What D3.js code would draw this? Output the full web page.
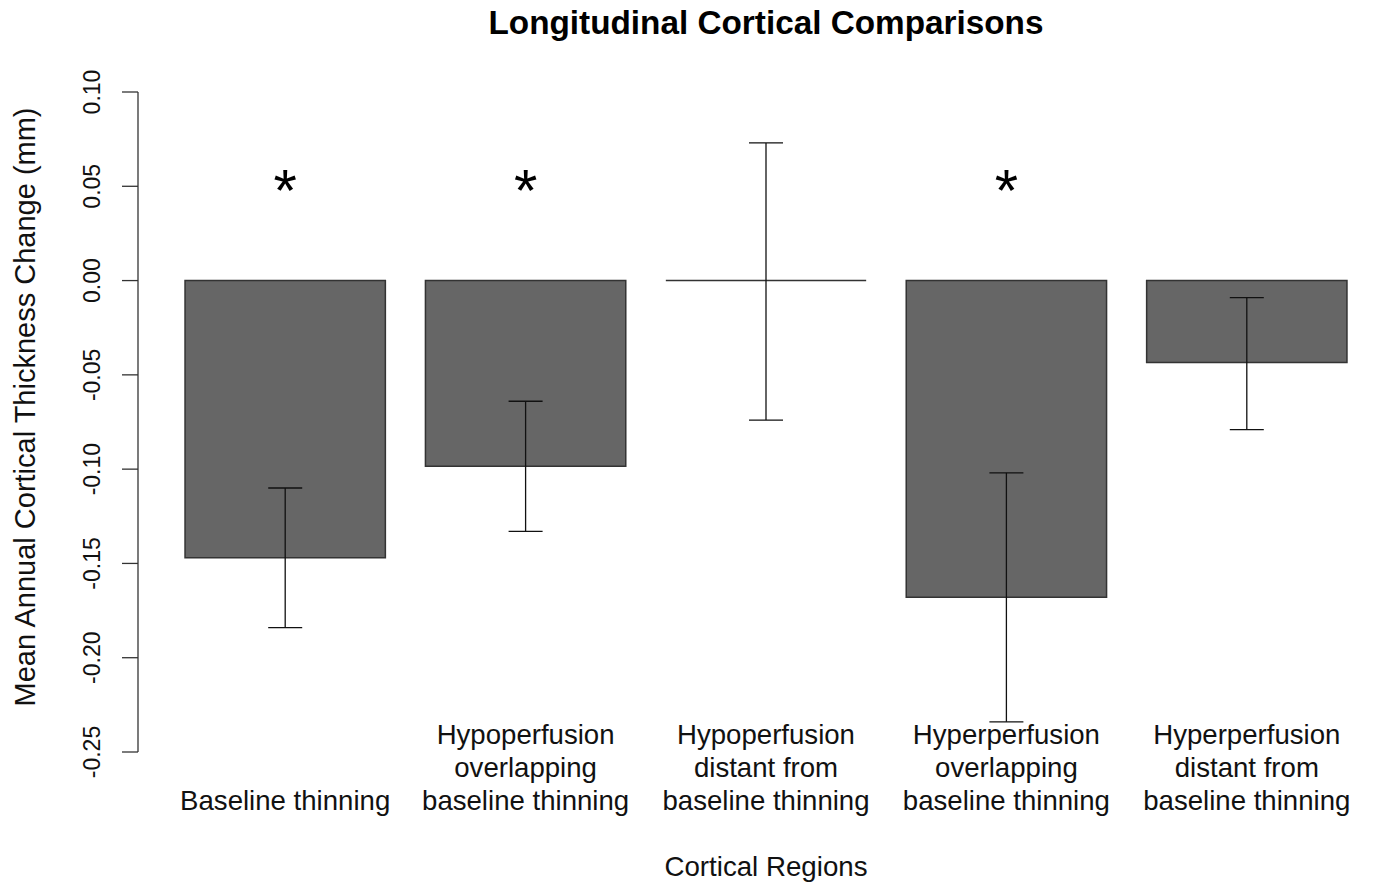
<!doctype html>
<html lang="en">
<head>
  <meta charset="utf-8">
  <title>Longitudinal Cortical Comparisons</title>
  <script src="https://cdn.jsdelivr.net/npm/d3@7"></script>
  <style>
    body { margin: 0; background: #fff; }
    svg text { font-family: "Liberation Sans", Arial, sans-serif; fill: #111; }
  </style>
</head>
<body>
<div id="chart"></div>
<script>
// data
var regions = [
  ["Baseline thinning"],
  ["Hypoperfusion", "overlapping", "baseline thinning"],
  ["Hypoperfusion", "distant from", "baseline thinning"],
  ["Hyperperfusion", "overlapping", "baseline thinning"],
  ["Hyperperfusion", "distant from", "baseline thinning"]
];
var means = [-0.147, -0.0985, 0.0, -0.168, -0.0435];
var errLow = [-0.184, -0.133, -0.074, -0.234, -0.079];
var errHigh = [-0.110, -0.064, 0.073, -0.102, -0.009];
var significant = [true, true, false, true, false];
var yTicks = [-0.25, -0.20, -0.15, -0.10, -0.05, 0.00, 0.05, 0.10];

var W = 1373, H = 884;
var svg = d3.select("#chart").append("svg")
  .attr("width", W).attr("height", H);

var y = d3.scaleLinear().domain([-0.25, 0.10]).range([752, 92]);
var x = d3.scaleBand()
  .domain(d3.range(regions.length))
  .range([165, 1367])
  .paddingInner(1 / 6)
  .paddingOuter(1 / 12);
var cx = function(i) { return x(i) + x.bandwidth() / 2; };

// title
svg.append("text")
  .attr("x", 766).attr("y", 34)
  .attr("text-anchor", "middle")
  .style("font-size", "33.3px").style("font-weight", "bold")
  .style("fill", "#000")
  .text("Longitudinal Cortical Comparisons");

// y axis (R style: line from first to last tick)
var yAxis = svg.append("g");
yAxis.append("line")
  .attr("x1", 138).attr("x2", 138)
  .attr("y1", y(-0.25)).attr("y2", y(0.10))
  .attr("stroke", "#333").attr("stroke-width", 1.3);
yAxis.selectAll(".tick").data(yTicks).enter().append("line")
  .attr("x1", 122).attr("x2", 138)
  .attr("y1", function(d) { return y(d); })
  .attr("y2", function(d) { return y(d); })
  .attr("stroke", "#333").attr("stroke-width", 1.3);
yAxis.selectAll(".lbl").data(yTicks).enter().append("text")
  .attr("transform", function(d) { return "translate(100," + y(d) + ") rotate(-90)"; })
  .attr("text-anchor", "middle")
  .style("font-size", "23px")
  .text(function(d) { return d3.format(".2f")(d).replace("−", "-"); });

svg.append("text")
  .attr("transform", "translate(35,407) rotate(-90)")
  .attr("text-anchor", "middle")
  .style("font-size", "29px")
  .text("Mean Annual Cortical Thickness Change (mm)");

// bars (path so the zero-height bar still shows as a line)
svg.selectAll(".bar").data(means).enter().append("path")
  .attr("d", function(d, i) {
    var x0 = x(i), x1 = x(i) + x.bandwidth(), y0 = y(0), y1 = y(d);
    return "M" + x0 + "," + y0 + "H" + x1 + "V" + y1 + "H" + x0 + "Z";
  })
  .attr("fill", "#666")
  .attr("stroke", "#333").attr("stroke-width", 1.5);

// error bars
var capW = 34;
var eb = svg.selectAll(".err").data(means).enter().append("g")
  .attr("stroke", "#111").attr("stroke-width", 1.3);
eb.append("line")
  .attr("x1", function(d, i) { return cx(i); })
  .attr("x2", function(d, i) { return cx(i); })
  .attr("y1", function(d, i) { return y(errLow[i]); })
  .attr("y2", function(d, i) { return y(errHigh[i]); });
eb.append("line")
  .attr("x1", function(d, i) { return cx(i) - capW / 2; })
  .attr("x2", function(d, i) { return cx(i) + capW / 2; })
  .attr("y1", function(d, i) { return y(errLow[i]); })
  .attr("y2", function(d, i) { return y(errLow[i]); });
eb.append("line")
  .attr("x1", function(d, i) { return cx(i) - capW / 2; })
  .attr("x2", function(d, i) { return cx(i) + capW / 2; })
  .attr("y1", function(d, i) { return y(errHigh[i]); })
  .attr("y2", function(d, i) { return y(errHigh[i]); });

// significance stars
significant.forEach(function(s, i) {
  if (!s) return;
  svg.append("text")
    .attr("x", cx(i))
    .attr("y", y(0.05) + 25)
    .attr("text-anchor", "middle")
    .style("font-size", "60px")
    .style("fill", "#000")
    .text("*");
});

// category labels, bottom-aligned
regions.forEach(function(lines, i) {
  var n = lines.length;
  lines.forEach(function(t, j) {
    svg.append("text")
      .attr("x", cx(i))
      .attr("y", 810 - (n - 1 - j) * 33)
      .attr("text-anchor", "middle")
      .style("font-size", "27.6px")
      .text(t);
  });
});

svg.append("text")
  .attr("x", 766).attr("y", 876)
  .attr("text-anchor", "middle")
  .style("font-size", "27.7px")
  .text("Cortical Regions");
</script>
</body>
</html>
